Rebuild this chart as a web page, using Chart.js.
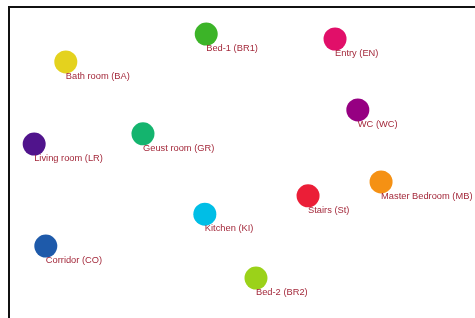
<!DOCTYPE html>
<html>
<head>
<meta charset="utf-8">
<script src="https://cdn.jsdelivr.net/npm/chart.js@4/dist/chart.umd.min.js"></script>
<style>
	body { margin: 0; background: #fff; }
	#wrap { position: absolute; left: 8px; top: 6px; border-left: 2px solid #111; border-top: 2px solid #111; }
</style>
</head>
<body>
<div id="wrap"><canvas id="roomChart" width="465" height="310"></canvas></div>
<script>
	// rooms, positions (0-100 both ways)
	rooms = ['Bath room (BA)', 'Bed-1 (BR1)', 'Entry (EN)', 'WC (WC)', 'Living room (LR)', 'Geust room (GR)',
		'Stairs (St)', 'Master Bedroom (MB)', 'Kitchen (KI)', 'Corridor (CO)', 'Bed-2 (BR2)'];
	xValues = [12.0, 42.2, 69.9, 74.8, 5.2, 28.6, 64.1, 79.8, 41.9, 7.7, 52.9];
	yValues = [82.6, 91.6, 90.0, 67.1, 56.1, 59.4, 39.4, 43.9, 33.5, 23.2, 12.9];
	roomColors = [
		'rgb(228, 210, 30)',
		'rgb(60, 180, 40)',
		'rgb(225, 15, 105)',
		'rgb(150, 0, 130)',
		'rgb(80, 20, 140)',
		'rgb(20, 180, 110)',
		'rgb(235, 30, 55)',
		'rgb(245, 145, 20)',
		'rgb(0, 190, 230)',
		'rgb(30, 90, 170)',
		'rgb(155, 210, 25)'
	];

	points = rooms.map(function(name, i) {
		return { x: xValues[i], y: yValues[i] };
	});

	roomLabels = {
		id: 'roomLabels',
		afterDatasetsDraw: function(chart) {
			c = chart.ctx;
			meta = chart.getDatasetMeta(0);
			c.save();
			c.font = '9.3px "Liberation Sans", Arial, sans-serif';
			c.fillStyle = '#a3283a';
			c.textAlign = 'left';
			c.textBaseline = 'middle';
			meta.data.forEach(function(el, i) {
				c.fillText(rooms[i], el.x, el.y + 14.5);
			});
			c.restore();
		}
	};

	ctx = document.getElementById('roomChart');
	new Chart(ctx, {
		type: 'bubble',
		data: {
			labels: rooms,
			datasets: [{
				data: points,
				radius: 11.5,
				hoverRadius: 0,
				borderWidth: 0,
				backgroundColor: roomColors,
				clip: false
			}]
		},
		options: {
			responsive: false,
			animation: false,
			layout: { padding: 0, autoPadding: false },
			plugins: { legend: { display: false }, tooltip: { enabled: false } },
			scales: {
				x: { display: false, min: 0, max: 100 },
				y: { display: false, min: 0, max: 100 }
			}
		},
		plugins: [roomLabels]
	});
</script>
</body>
</html>
